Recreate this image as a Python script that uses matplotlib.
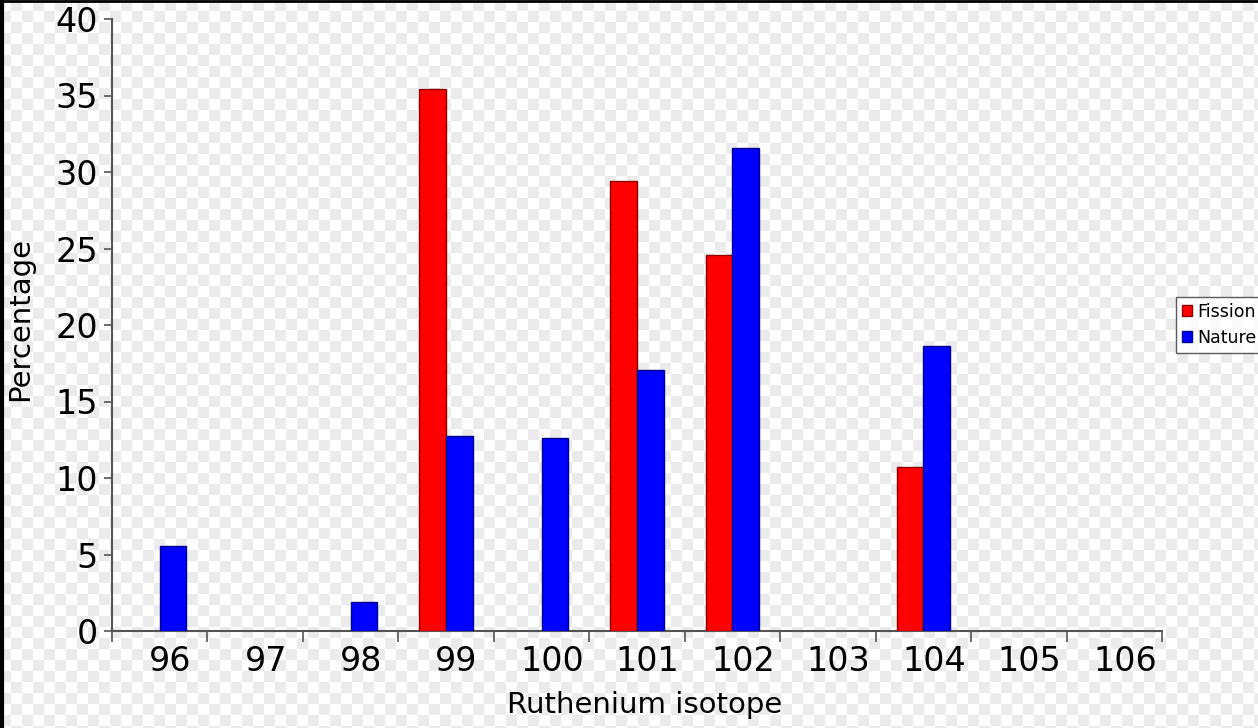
import matplotlib
matplotlib.use('Agg')
import matplotlib.pyplot as plt
import numpy as np

# isotope abundances (%)
isotopes = ['96', '97', '98', '99', '100', '101', '102', '103', '104', '105', '106']
fission = [0, 0, 0, 35.4, 0, 29.4, 24.6, 0, 10.7, 0, 0]
nature = [5.54, 0, 1.87, 12.76, 12.60, 17.06, 31.55, 0, 18.62, 0, 0]

W, H = 1258, 728
fig = plt.figure(figsize=(W / 100, H / 100), dpi=100)

# transparent-style checkerboard backdrop
yy, xx = np.mgrid[0:H, 0:W]
cell = 11
checker = ((xx // cell + yy // cell) % 2).astype(float)
bg = np.where(checker[..., None] > 0, 0.925, 1.0) * np.ones((1, 1, 3))
fig.figimage(bg, 0, 0, zorder=-5)

# frame edges of the screenshot
fig.add_artist(plt.Line2D([0.0015, 0.0015], [0, 1], transform=fig.transFigure, color='black', lw=3))
fig.add_artist(plt.Line2D([0, 1], [0.998, 0.998], transform=fig.transFigure, color='black', lw=2))

ax = fig.add_axes([112 / W, 1 - 631 / H, 1050 / W, 612 / H])
ax.patch.set_alpha(0)
ax.set_zorder(2)

x = np.arange(len(isotopes))
bw = 0.28
f_vals = np.array(fission, dtype=float)
n_vals = np.array(nature, dtype=float)
f_mask = f_vals > 0
n_mask = n_vals > 0
ax.bar(x[f_mask] - bw / 2, f_vals[f_mask], bw, color='#ff0000', edgecolor='#8b0000', linewidth=1, label='Fission', zorder=3)
ax.bar(x[n_mask] + bw / 2, n_vals[n_mask], bw, color='#0000ff', edgecolor='#00008b', linewidth=1, label='Nature', zorder=3)

ax.set_xlim(-0.5, len(isotopes) - 0.5)
ax.set_ylim(0, 40)

for s in ['top', 'right']:
    ax.spines[s].set_visible(False)
for s in ['left', 'bottom']:
    ax.spines[s].set_color('#555555')
    ax.spines[s].set_linewidth(1.5)

ax.set_yticks(np.arange(0, 41, 5))
ax.tick_params(axis='y', labelsize=24, length=6, width=1.2, color='#555555', pad=4)

ax.set_xticks(np.arange(len(isotopes) + 1) - 0.5)
ax.set_xticklabels([])
ax.set_xticks(x + 0.11, minor=True)
ax.set_xticklabels(isotopes, minor=True)
ax.tick_params(axis='x', which='major', length=8, width=1.2, color='#555555')
ax.tick_params(axis='x', which='minor', length=0, labelsize=24, pad=10)

ax.set_xlabel('Ruthenium isotope', fontsize=21)
ax.set_ylabel('Percentage', fontsize=21)
ax.yaxis.set_label_coords(-0.074, 0.51)
ax.xaxis.set_label_coords(0.507, -0.098)

leg = fig.legend(loc='upper left', bbox_to_anchor=(1176 / W, 1 - 297 / H), fontsize=12.5,
                 frameon=True, fancybox=False, edgecolor='#333333', handlelength=0.6,
                 handleheight=0.6, handletextpad=0.3, borderpad=0.35, labelspacing=0.45,
                 borderaxespad=0)
leg.get_frame().set_linewidth(1)
leg.set_zorder(3)

fig.savefig('out.png', dpi=100)
